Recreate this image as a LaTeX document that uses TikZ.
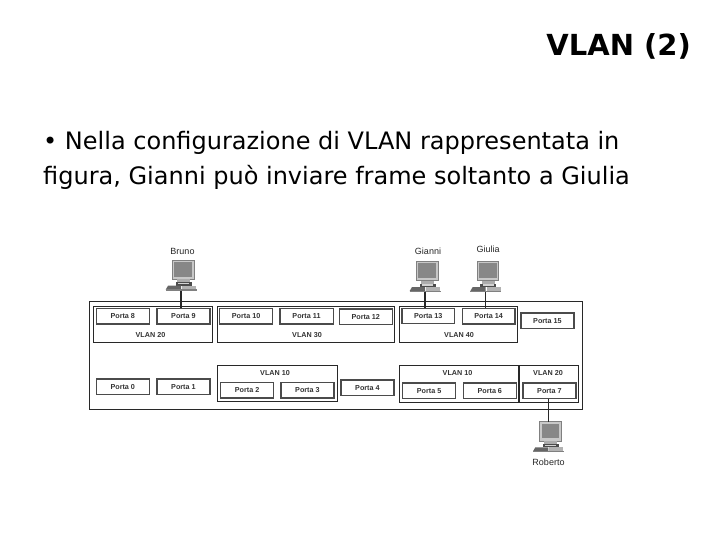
\documentclass[tikz,border=0pt]{standalone}
\usepackage{fontspec}
\setmainfont{DejaVu Sans}
\newfontfamily\labfont{Liberation Sans}
\definecolor{boxline}{RGB}{40,40,40}
\definecolor{portline}{RGB}{75,75,75}
\definecolor{screen}{RGB}{135,135,135}
\definecolor{frameg}{RGB}{200,200,200}
\tikzset{
  px/.style={x=1pt,y=-1pt},
  portbox/.style={draw=portline,line width=1.2pt,fill=white,inner sep=0pt,anchor=north west,
    font=\labfont\fontsize{7.2}{8}\selectfont\bfseries,text=black!80},
  groupbox/.style={draw=boxline,line width=1.1pt,fill=white,inner sep=0pt,anchor=north west},
  grouplabel/.style={font=\labfont\fontsize{7.2}{8}\selectfont\bfseries,text=black!80,inner sep=0pt},
  pclabel/.style={font=\labfont\fontsize{9}{10}\selectfont,text=black!85,inner sep=0pt},
  wire/.style={draw=boxline,line width=1.1pt},
  pics/computer/.style={code={
    % origin: where the cable leaves, bottom of keyboard
    \fill[frameg,draw=gray,line width=0.5pt] (-8.7,-30.7) rectangle (13,-11.5);
    \fill[screen] (-6.7,-28.7) rectangle (11,-14);
    \fill[gray!65] (-4,-11.5) rectangle (9,-8.5);
    \fill[gray!60!black] (-5.5,-8.5) rectangle (10.5,-5);
    \fill[gray!35] (-3,-7.8) rectangle (8,-6.5);
    \fill[black!60] (-13,-5) -- (-15.3,-1) -- (0,-1) -- (0,-5) -- cycle;
    \fill[black!50] (-15.3,-1.5) rectangle (15.5,0);
    \fill[gray!60] (1,-5) rectangle (15,-1.5);
  }}
}
\newcommand{\portnode}[6]{\node[portbox,minimum width=#4 pt-#2 pt,minimum height=#5 pt-#3 pt] (#1) at (#2,#3) {#6};}
\newcommand{\groupnode}[5]{\node[groupbox,minimum width=#4 pt-#2 pt,minimum height=#5 pt-#3 pt] (#1) at (#2,#3) {};}
\begin{document}
\begin{tikzpicture}[px]
\useasboundingbox (0,0) rectangle (720,540);
\fill[white] (0,0) rectangle (720,540);

\node[anchor=east,inner sep=0pt,font=\fontsize{29}{34}\selectfont\bfseries] (title) at (691,46) {VLAN (2)};
\node[anchor=base west,inner sep=0pt,font=\fontsize{24}{28}\selectfont] (l1) at (43,150) {• Nella configurazione di VLAN rappresentata in};
\node[anchor=base west,inner sep=0pt,font=\fontsize{24}{28}\selectfont] (l2) at (43,185) {figura, Gianni può inviare frame soltanto a Giulia};

\groupnode{sw}{88.7}{300.7}{581.7}{409.3}

\groupnode{g20a}{93.3}{305.7}{211.7}{342.3}
\groupnode{g30}{216.7}{305.7}{393.7}{342.3}
\groupnode{g40}{398.7}{305.7}{517}{342.3}
\groupnode{g10a}{217}{364.7}{336.7}{401.3}
\groupnode{g10b}{399}{365.3}{518.3}{401.7}
\groupnode{g20b}{519.3}{365.3}{577.7}{401.7}

\node[grouplabel] (t20a) at (150.5,335) {VLAN 20};
\node[grouplabel] (t30) at (307,335) {VLAN 30};
\node[grouplabel] (t40) at (459,335) {VLAN 40};
\node[grouplabel] (t10a) at (275,373) {VLAN 10};
\node[grouplabel] (t10b) at (457.5,373.5) {VLAN 10};
\node[grouplabel] (t20b) at (548,373.5) {VLAN 20};

\portnode{p8}{95.7}{308}{148.7}{323.3}{Porta 8}
\portnode{p9}{156.3}{308}{209.3}{323.3}{Porta 9}
\portnode{p10}{219}{308}{272}{323.3}{Porta 10}
\portnode{p11}{279.3}{308}{332.5}{323.3}{Porta 11}
\portnode{p12}{338.7}{308.3}{391.7}{323.7}{Porta 12}
\portnode{p13}{401.3}{307.7}{454}{323}{Porta 13}
\portnode{p14}{461.7}{308}{514.3}{323.3}{Porta 14}
\portnode{p15}{520.3}{312.3}{573.3}{328}{Porta 15}
\portnode{p0}{95.7}{378.3}{148.7}{393.7}{Porta 0}
\portnode{p1}{156.3}{378.3}{209.3}{393.7}{Porta 1}
\portnode{p2}{220}{382}{273}{397.3}{Porta 2}
\portnode{p3}{280.3}{382}{333.3}{397.3}{Porta 3}
\portnode{p4}{340.3}{379.3}{393.3}{395}{Porta 4}
\portnode{p5}{402}{382.3}{455}{398}{Porta 5}
\portnode{p6}{462.7}{382.3}{515.7}{398}{Porta 6}
\portnode{p7}{522.3}{382.3}{575.3}{398}{Porta 7}

\pic at (181,290.7) {computer};
\pic at (425,292) {computer};
\pic at (485.7,292) {computer};
\pic at (548.3,452.3) {computer};

\coordinate (pcB) at (181,290.7);
\coordinate (pcGa) at (425,292);
\coordinate (pcGu) at (485.7,292);
\coordinate (pcR) at (548.3,421.5);

\node[pclabel] (nB) at (182.5,251) {Bruno};
\node[pclabel] (nGa) at (428,250.8) {Gianni};
\node[pclabel] (nGu) at (488,249.5) {Giulia};
\node[pclabel] (nR) at (548.5,462) {Roberto};

\draw[wire] (pcB) -- (pcB |- p9.north);
\draw[wire] (pcGa) -- (pcGa |- p13.north);
\draw[wire] (pcGu) -- (pcGu |- p14.north);
\draw[wire] (pcR |- p7.south) -- (pcR);
\end{tikzpicture}
\end{document}
